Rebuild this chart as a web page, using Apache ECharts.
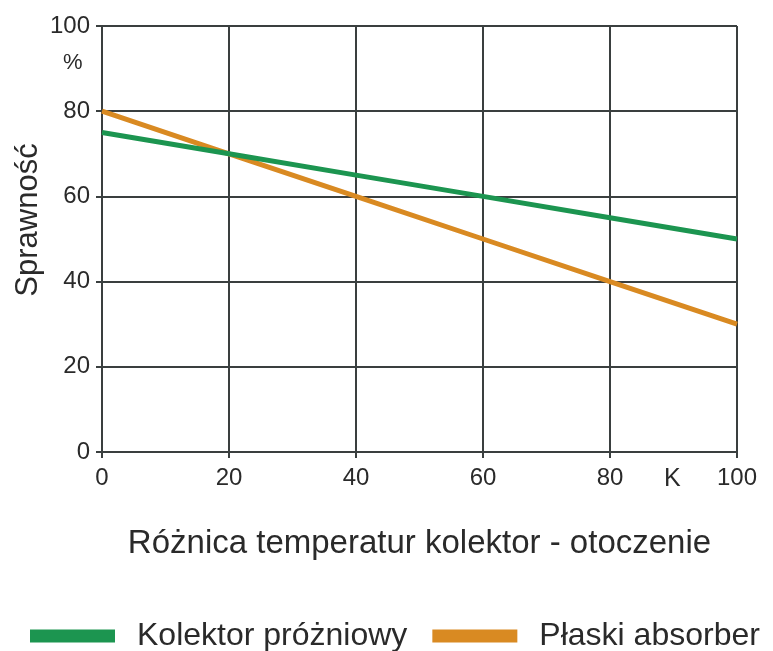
<!DOCTYPE html>
<html>
<head>
<meta charset="utf-8">
<script src="https://cdn.jsdelivr.net/npm/echarts@6/dist/echarts.min.js"></script>
<style>
html,body{margin:0;padding:0;background:#fff;}
#chart{width:773px;height:651px;}
</style>
</head>
<body>
<div id="chart"></div>
<script>
var xValues = [0, 20, 40, 60, 80, 100];
var kolektorProzniowy = [75, 70, 65, 60, 55, 50];
var plaskiAbsorber = [80, 70, 60, 50, 40, 30];
var seriesNames = ['Kolektor próżniowy', 'Płaski absorber'];
var xTitle = 'Różnica temperatur kolektor - otoczenie';
var yTitle = 'Sprawność';

var font = 'Liberation Sans, Arial, sans-serif';
var textColor = '#2a2a2a';
var gridColor = '#3a3f3f';
var green = '#1c9550';
var orange = '#d98a22';

function pairs(xs, ys){ return xs.map(function(x,i){ return [x, ys[i]]; }); }

var chart = echarts.init(document.getElementById('chart'), null, {renderer:'canvas'});
chart.setOption({
  animation:false,
  backgroundColor:'#ffffff',
  grid:{left:102, right:36, top:26, bottom:199},
  xAxis:{
    type:'value', min:0, max:100, interval:20,
    name:xTitle, nameLocation:'middle', nameGap:75,
    nameTextStyle:{fontSize:33, color:textColor, fontFamily:font},
    axisLine:{show:true, lineStyle:{color:gridColor, width:2}},
    axisTick:{show:true, length:6, lineStyle:{color:gridColor, width:2}},
    axisLabel:{fontSize:24, color:textColor, fontFamily:font, margin:14},
    splitLine:{show:true, lineStyle:{color:gridColor, width:2}}
  },
  yAxis:{
    type:'value', min:0, max:100, interval:20,
    axisLine:{show:true, lineStyle:{color:gridColor, width:2}},
    axisTick:{show:true, length:6, lineStyle:{color:gridColor, width:2}},
    axisLabel:{fontSize:24, color:textColor, fontFamily:font, margin:12},
    splitLine:{show:true, lineStyle:{color:gridColor, width:2}}
  },
  legend:{
    left:30, top:620, padding:0, itemGap:25, itemWidth:85, itemHeight:13,
    icon:'rect',
    textStyle:{fontSize:32, color:textColor, fontFamily:font, padding:[0,0,0,17]},
    data:[{name:seriesNames[0], itemStyle:{color:green}}, {name:seriesNames[1], itemStyle:{color:orange}}]
  },
  graphic:[
    {type:'text', left:63, top:52, style:{text:'%', fontSize:22, fill:textColor, fontFamily:font}},
    {type:'text', left:664, top:467, style:{text:'K', fontSize:25, fill:textColor, fontFamily:font}},
    {type:'text', x:28, y:220, rotation:Math.PI/2, style:{text:yTitle, fontSize:31, fill:textColor, fontFamily:font, align:'center', verticalAlign:'middle'}}
  ],
  series:[
    {name:seriesNames[1], type:'line', data:pairs(xValues, plaskiAbsorber), showSymbol:false, symbol:'none',
     lineStyle:{color:orange, width:5}, itemStyle:{color:orange}, z:3},
    {name:seriesNames[0], type:'line', data:pairs(xValues, kolektorProzniowy), showSymbol:false, symbol:'none',
     lineStyle:{color:green, width:5}, itemStyle:{color:green}, z:4}
  ]
});
</script>
</body>
</html>
